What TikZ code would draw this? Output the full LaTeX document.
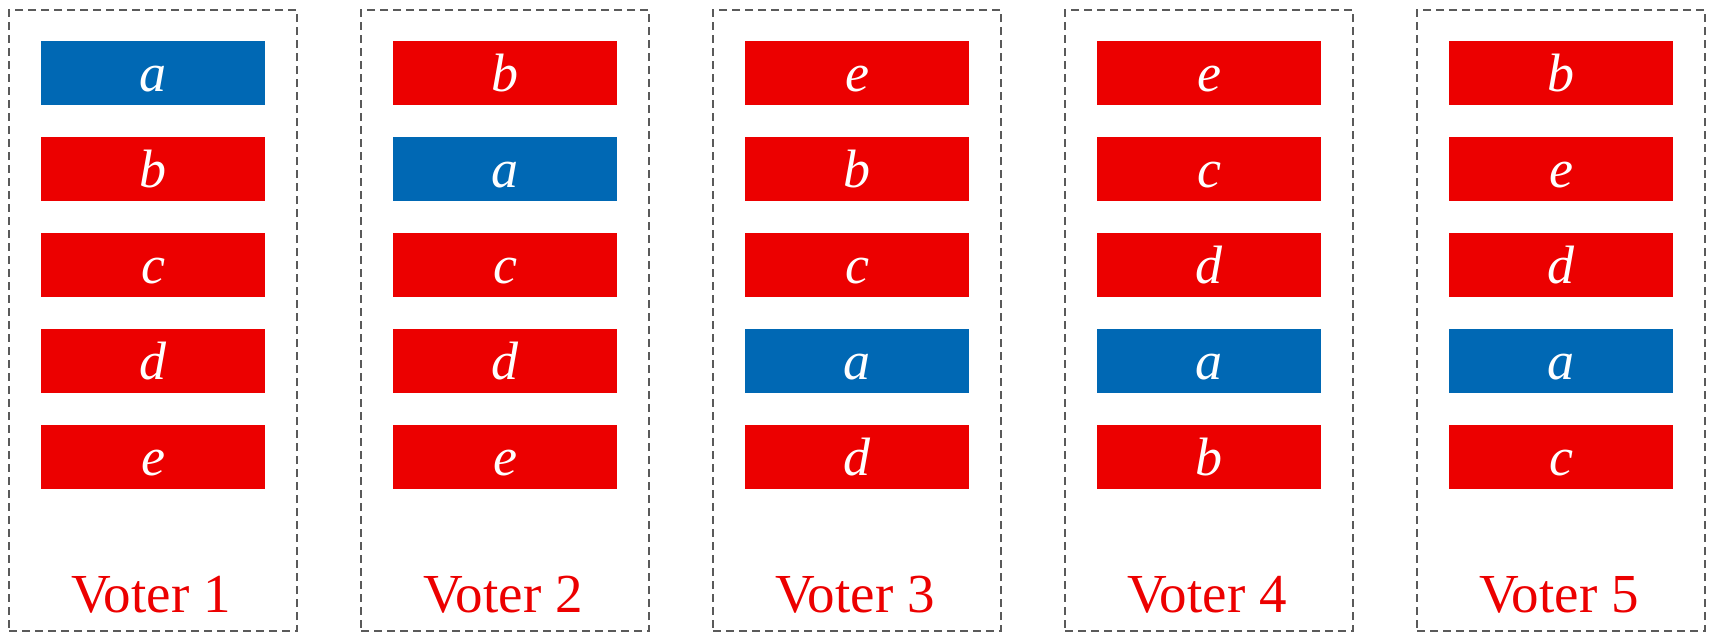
\documentclass[tikz,border=0pt]{standalone}
\usepackage{fontspec}
\setmainfont{Liberation Serif}
\definecolor{vred}{RGB}{236,0,0}
\definecolor{vblue}{RGB}{0,104,180}
\definecolor{dgray}{RGB}{90,90,90}
\def\candA{a}
\tikzset{
  frame/.style={draw=dgray, line width=1.6pt, dash pattern=on 8pt off 5pt, minimum width=288pt, minimum height=621pt, inner sep=0pt},
  cand/.style={minimum width=224pt, minimum height=64pt, inner sep=0pt, text=white, text height=36pt, text depth=0pt, font=\fontsize{54}{56}\selectfont\itshape},
  redc/.style={cand, fill=vred},
  bluec/.style={cand, fill=vblue},
  vlabel/.style={text=vred, anchor=base, font=\fontsize{55}{60}\selectfont, inner sep=0pt}
}
\begin{document}
\begin{tikzpicture}[x=1pt,y=-1pt]
\useasboundingbox (0,0) rectangle (1711,633);
\foreach \col/\lst [count=\c] in {153/{a,b,c,d,e}, 505/{b,a,c,d,e}, 857/{e,b,c,a,d}, 1209/{e,c,d,a,b}, 1561/{b,e,d,a,c}} {
  \node[frame] (box\c) at (\col,320.5) {};
  \foreach \l [count=\i] in \lst {
    \ifx\l\candA
      \node[bluec] (c\c\i) at (\col,{73+96*(\i-1)}) {\l};
    \else
      \node[redc] (c\c\i) at (\col,{73+96*(\i-1)}) {\l};
    \fi
  }
  \node[vlabel] (lab\c) at (\col-2,612) {Voter \c};
}
\end{tikzpicture}
\end{document}
